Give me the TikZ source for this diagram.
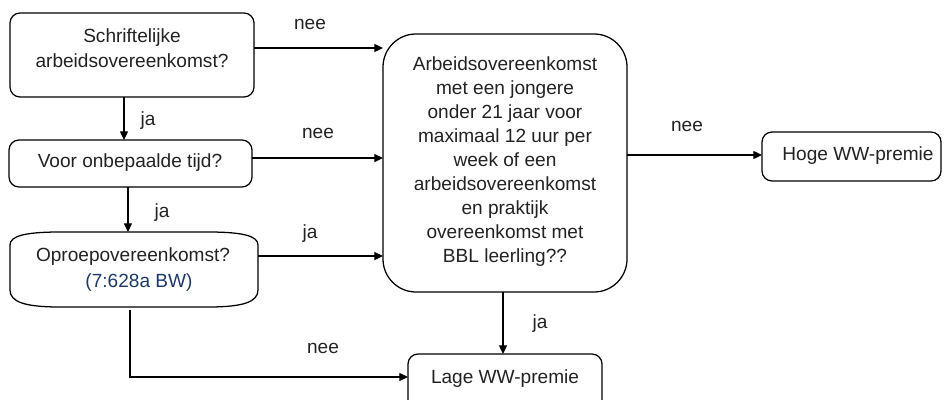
\documentclass[tikz,border=0pt]{standalone}
\usepackage{fontspec}
\setmainfont{Liberation Sans}
\usetikzlibrary{arrows.meta,calc}
\definecolor{txtc}{HTML}{222222}
\definecolor{navyc}{HTML}{1F3864}
\begin{document}
\begin{tikzpicture}[x=0.75pt,y=-0.75pt,
  box/.style={draw=black, line width=0.95pt, rounded corners=7.5pt, inner sep=0pt, outer sep=0pt},
  ghost/.style={inner sep=0pt, outer sep=0pt},
  txt/.style={text=txtc, font=\fontsize{14.3pt}{18pt}\selectfont, align=center, inner sep=0pt, anchor=base},
  arr/.style={draw=black, line width=0.95pt, -{Triangle[length=6.5pt,width=6pt]}}]
\useasboundingbox (0,0) rectangle (944,399);

% boxes
\node[box, minimum width=183pt, minimum height=63pt] (b1) at (132,55) {};
\node[box, minimum width=182.25pt, minimum height=35.25pt] (b2) at (130.5,163.5) {};
\node[ghost, minimum width=186pt, minimum height=56.25pt] (b3) at (134,269.5) {};
\draw[line width=0.95pt] (10,245) .. controls (10,236) and (25,232) .. (60,232) -- (208,232)
  .. controls (243,232) and (258,236) .. (258,245) -- (258,290)
  .. controls (258,302) and (243,307) .. (208,307) -- (60,307)
  .. controls (25,307) and (10,302) .. (10,290) -- cycle;
\node[box, rounded corners=24.75pt, minimum width=183pt, minimum height=193.5pt] (big) at (505,163) {};
\node[box, minimum width=134.25pt, minimum height=36.75pt] (hoge) at (851.5,156.5) {};
\node[box, minimum width=145.5pt, minimum height=43.5pt] (lage) at (505,383) {};

% texts (base anchor = baseline of the last line)
\node[txt, font=\fontsize{14.3pt}{18.75pt}\selectfont] (t1) at (132,68) {Schriftelijke\\arbeidsovereenkomst?};
\node[txt] (t2) at (130,167) {Voor onbepaalde tijd?};
\node[txt] (t3a) at (133,261) {Oproepovereenkomst?};
\node[txt, text=navyc] (t3b) at (139,287) {(7:628a BW)};
\node[txt] (tbig) at (505,262) {Arbeidsovereenkomst\\met een jongere\\onder 21 jaar voor\\maximaal 12 uur per\\week of een\\arbeidsovereenkomst\\en praktijk\\overeenkomst met\\BBL leerling??};
\node[txt] (thoge) at (858,160) {Hoge WW-premie};
\node[txt] (tlage) at (505,383) {Lage WW-premie};

% labels
\node[txt] (l1) at (310,30) {nee};
\node[txt] (l2) at (148,126) {ja};
\node[txt] (l3) at (318,138) {nee};
\node[txt] (l4) at (162,217) {ja};
\node[txt] (l5) at (310,238) {ja};
\node[txt] (l6) at (323,353) {nee};
\node[txt] (l7) at (687,132) {nee};
\node[txt] (l8) at (540,328) {ja};

% connectors
\coordinate (s1) at ([yshift=5.25pt]b1.east);
\draw[arr] (s1) -- (s1 -| big.west);
\coordinate (s2) at ([xshift=-6pt]b1.south);
\draw[arr] (s2) -- (s2 |- b2.north);
\coordinate (s3) at ([yshift=4.1pt]b2.east);
\draw[arr] (s3) -- (s3 -| big.west);
\coordinate (s4) at ([xshift=-1.9pt]b2.south);
\draw[arr] (s4) -- (s4 |- b3.north);
\coordinate (s5) at ([yshift=10.1pt]b3.east);
\draw[arr] (s5) -- (s5 -| big.west);
\coordinate (s6) at ([xshift=-3pt,yshift=-2pt]b3.south);
\coordinate (e6) at ([yshift=4.5pt]lage.west);
\draw[arr] (s6) |- (e6);
\coordinate (s7) at ([xshift=-1.5pt]big.south);
\draw[arr] (s7) -- (s7 |- lage.north);
\coordinate (s8) at ([yshift=6pt]big.east);
\draw[arr] (s8) -- (s8 -| hoge.west);
\end{tikzpicture}
\end{document}
